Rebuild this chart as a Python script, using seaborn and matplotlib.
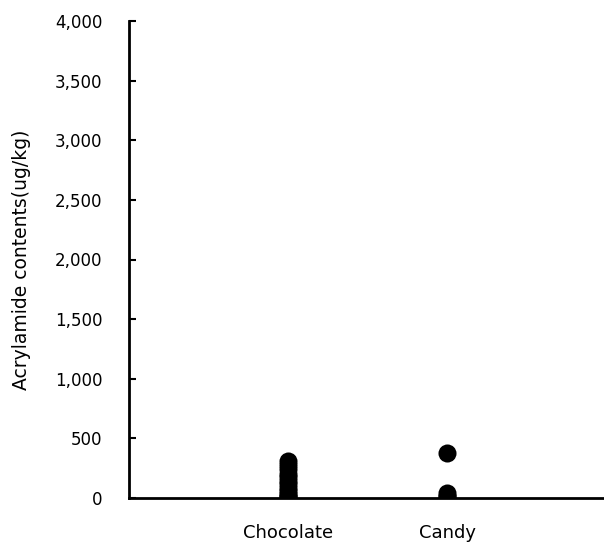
import matplotlib
matplotlib.use("Agg")
import matplotlib.pyplot as plt
import seaborn as sns
import pandas as pd
from matplotlib.ticker import FuncFormatter

categories = ["Chocolate", "Candy"]
chocolate_values = [310, 275, 240, 205, 175, 145, 115, 85, 60, 35, 15, 5]
candy_values = [380, 40, 20, 5]
y_ticks = [0, 500, 1000, 1500, 2000, 2500, 3000, 3500, 4000]

df = pd.DataFrame({
    "food": [categories[0]] * len(chocolate_values) + [categories[1]] * len(candy_values),
    "value": chocolate_values + candy_values,
})

sns.set_theme(style="white")
plt.rcParams["font.family"] = ["DejaVu Sans"]

fig = plt.figure(figsize=(6.04, 5.48), dpi=100)
ax = fig.add_axes([129 / 604, 50 / 548, 474 / 604, 477 / 548])

sns.stripplot(data=df, x="food", y="value", order=categories, jitter=False,
              color="black", size=13, ax=ax, linewidth=0)

ax.set_xlim(-1.0, 1.98)
ax.set_ylim(0, 4000)
ax.set_yticks(y_ticks)
ax.yaxis.set_major_formatter(FuncFormatter(lambda v, p: f"{int(v):,}"))
ax.set_xlabel("")
ax.set_ylabel("Acrylamide contents(ug/kg)", fontsize=13.5, color="black", labelpad=17)
ax.tick_params(axis="y", direction="in", length=5, width=1.5, left=True,
               labelsize=12, colors="black", pad=19)
ax.tick_params(axis="x", length=0, labelsize=13, colors="black", pad=19)

for s in ["top", "right"]:
    ax.spines[s].set_visible(False)
for s in ["left", "bottom"]:
    ax.spines[s].set_color("black")
    ax.spines[s].set_linewidth(2)

fig.savefig("out.png", dpi=100, facecolor="white")
